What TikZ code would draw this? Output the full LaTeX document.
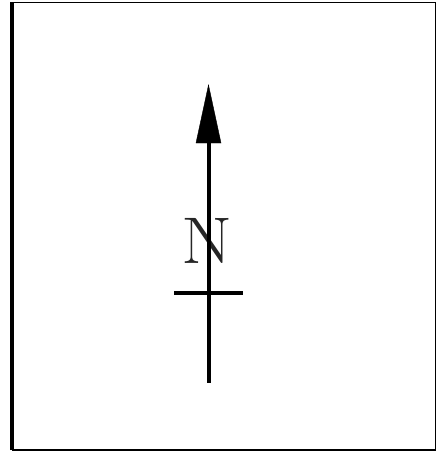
\documentclass[tikz,border=0pt]{standalone}
\begin{document}
\begin{tikzpicture}[x=1pt,y=-1pt,
  frame/.style={line width=1.3pt},
  thickline/.style={line width=4pt},
  head/.style={fill=black},
  letter/.style={inner sep=0pt,xscale=1.12,text=black!85,font=\fontsize{66}{66}\selectfont}]
\useasboundingbox (0,0) rectangle (445,452);
\coordinate (tl) at (12,2.5);
\coordinate (tr) at (435.5,2.5);
\coordinate (br) at (435.5,450);
\coordinate (bl) at (12,450);
\draw[frame] (tl) -- (tr) -- (br) -- (bl);
\draw[line width=4pt] (bl) -- (tl);
\node[letter] (N) at (207.5,240.5) {N};
\coordinate (tip) at (208.5,85);
\coordinate (hl) at (196,143);
\coordinate (hr) at (221,143);
\coordinate (hb) at (208.5,142);
\coordinate (tail) at (208.5,383);
\coordinate (cl) at (174,292.5);
\coordinate (cr) at (243,292.5);
\draw[head] (tip) -- (hr) -- (hl) -- cycle;
\draw[thickline] (hb) -- (tail);
\draw[thickline] (cl) -- (cr);
\end{tikzpicture}
\end{document}
